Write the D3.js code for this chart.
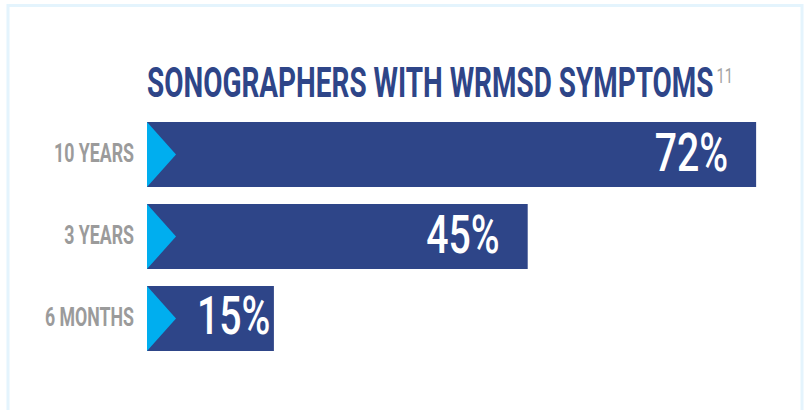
<!DOCTYPE html>
<html>
<head>
<meta charset="utf-8">
<script src="https://cdn.jsdelivr.net/npm/d3@7"></script>
<style>
  html, body { margin: 0; padding: 0; background: #ffffff; }
  svg { display: block; }
</style>
</head>
<body>
<div id="chart"></div>
<script>
// ---- data ----
const categories = ["10 YEARS", "3 YEARS", "6 MONTHS"];
const values = [72, 45, 15];
const valueLabels = ["72%", "45%", "15%"];
const titleText = "SONOGRAPHERS WITH WRMSD SYMPTOMS";
const titleNote = "11";

// ---- layout / style ----
const W = 809, H = 410;
const navy = "#2e4588", cyan = "#00aeef", grey = "#9b9b9b", frame = "#e4f4fd";
const condense = 0.74;
const fontFam = "Roboto, 'Open Sans', 'DejaVu Sans', sans-serif";

const svg = d3.select("#chart").append("svg")
  .attr("width", W).attr("height", H);

// outer frame
svg.append("rect")
  .attr("x", 8).attr("y", 5.5)
  .attr("width", 794).attr("height", H + 20)
  .attr("fill", "none").attr("stroke", frame).attr("stroke-width", 3);

const x = d3.scaleLinear().domain([0, 100]).range([147, 993]);
const y = d3.scaleBand().domain(categories).range([122, 351]).paddingInner(0.2073).paddingOuter(0);

// place a text horizontally condensed (narrow-font look) via a transform
function place(node, px, py, ratio) {
  d3.select(node).attr("x", 0).attr("y", 0)
    .attr("transform", `translate(${px},${py}) scale(${ratio},1)`);
  return node.getComputedTextLength() * ratio;
}

// title
const title = svg.append("text")
  .attr("font-family", fontFam).attr("font-weight", 700)
  .attr("font-size", 42).attr("fill", navy)
  .text(titleText);
const tW = place(title.node(), x(0), 96.5, 0.665);
const note = svg.append("text")
  .attr("font-family", fontFam).attr("font-weight", 400)
  .attr("font-size", 21).attr("fill", "#a3a3a3")
  .text(titleNote);
place(note.node(), x(0) + tW + 3, 83, 0.7);

const rows = categories.map((c, i) => ({ cat: c, v: values[i], label: valueLabels[i] }));

// bars
svg.selectAll("rect.bar").data(rows).enter().append("rect")
  .attr("class", "bar")
  .attr("x", x(0)).attr("y", d => y(d.cat))
  .attr("width", d => x(d.v) - x(0)).attr("height", y.bandwidth())
  .attr("fill", navy);

// chevrons
const tipW = 29;
svg.selectAll("path.tip").data(rows).enter().append("path")
  .attr("class", "tip")
  .attr("d", d => {
    const x0 = x(0), y0 = y(d.cat), h = y.bandwidth();
    return `M${x0},${y0}L${x0 + tipW},${y0 + h / 2}L${x0},${y0 + h}Z`;
  })
  .attr("fill", cyan);

// category labels
svg.selectAll("text.cat").data(rows).enter().append("text")
  .attr("class", "cat")
  .attr("text-anchor", "end")
  .attr("font-family", fontFam).attr("font-weight", 700)
  .attr("font-size", 25).attr("fill", grey)
  .text(d => d.cat)
  .each(function (d) { place(this, 134, y(d.cat) + y.bandwidth() / 2 + 7.5, 0.71); });

// value labels
svg.selectAll("text.val").data(rows).enter().append("text")
  .attr("class", "val")
  .attr("font-family", fontFam).attr("font-weight", 500)
  .attr("font-size", 53).attr("fill", "#ffffff")
  .text(d => d.label)
  .each(function (d) {
    const w = this.getComputedTextLength() * condense;
    const minStart = x(0) + tipW + 21;
    const start = Math.max(x(d.v) - 28 - w, minStart);
    place(this, start, y(d.cat) + y.bandwidth() / 2 + 16, condense);
  });
</script>
</body>
</html>
